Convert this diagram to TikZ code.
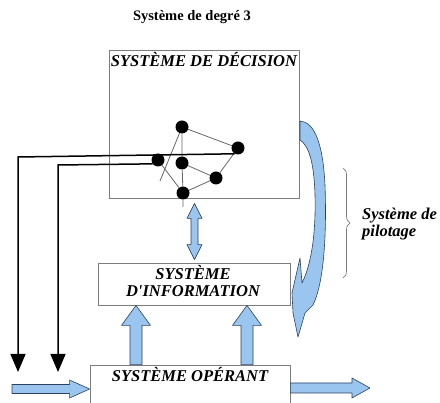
\documentclass[tikz,border=0pt]{standalone}
\usepackage{fontspec}
\setmainfont{Liberation Serif}
\usetikzlibrary{calc,arrows.meta,decorations.pathreplacing}

\definecolor{bleufl}{RGB}{153,197,238}
\definecolor{bordfl}{RGB}{45,65,95}
\definecolor{grisb}{RGB}{125,125,125}

\tikzset{
  boite/.style={draw=grisb, line width=0.8pt, inner sep=0pt},
  titre/.style={font=\fontsize{16.5}{17}\selectfont\bfseries\itshape, inner sep=0pt},
  pt/.style={circle, fill=black, inner sep=0pt, minimum size=13pt},
  lien/.style={draw=black!60, line width=0.8pt},
  fil/.style={line width=1.5pt, -{Triangle[length=18pt,width=15pt]}},
  fleche/.style={fill=bleufl, draw=bordfl, line width=0.6pt, line join=round},
}

% flèche pleine : #1 -> #2, demi-largeur du corps, demi-largeur de la tête, longueur de la tête
\newcommand{\flechebleue}[5]{%
  \coordinate (fh) at ($(#2)!#5!(#1)$);
  \path[fleche] ($(#1)!#3!90:(#2)$) -- ($(fh)!#3!90:(#2)$) -- ($(fh)!#4!90:(#2)$) -- (#2)
    -- ($(fh)!#4!-90:(#2)$) -- ($(fh)!#3!-90:(#2)$) -- ($(#1)!#3!-90:(#2)$) -- cycle;}

% flèche double
\newcommand{\doublebleue}[5]{%
  \coordinate (fa) at ($(#1)!#5!(#2)$);
  \coordinate (fb) at ($(#2)!#5!(#1)$);
  \path[fleche] (#1) -- ($(fa)!#4!90:(#2)$) -- ($(fa)!#3!90:(#2)$) -- ($(fb)!#3!90:(#2)$)
    -- ($(fb)!#4!90:(#2)$) -- (#2) -- ($(fb)!#4!-90:(#2)$) -- ($(fb)!#3!-90:(#2)$)
    -- ($(fa)!#3!-90:(#2)$) -- ($(fa)!#4!-90:(#2)$) -- cycle;}

\begin{document}
\begin{tikzpicture}[x=1pt,y=-1pt]
\clip (0,0) rectangle (440,403);

% Titre
\node[font=\fontsize{14.5}{15}\selectfont\bfseries, inner sep=0pt, anchor=base] (titre) at (192,21) {Système de degré 3};

% Boîtes
\node[boite, minimum width=190pt, minimum height=148pt] (dec) at (204,124) {};
\node[titre, anchor=base] (decT) at (204,67) {SYSTÈME DE DÉCISION};
\node[boite, minimum width=192pt, minimum height=42pt] (info) at (194,284) {};
\node[titre, align=center] (infoT) at (193,281) {SYSTÈME\\D\textquotesingle INFORMATION};
\node[boite, minimum width=200pt, minimum height=50pt] (op) at (190,390) {};
\node[titre, anchor=base] (opT) at (190,382) {SYSTÈME OPÉRANT};

% Réseau de décision
\node[pt] (a) at (182,127) {};
\node[pt] (b) at (238,148) {};
\node[pt] (c) at (158,160) {};
\node[pt] (d) at (182,163) {};
\node[pt] (e) at (216,178) {};
\node[pt] (f) at (183,193) {};
\coordinate (g) at (160,181);
\coordinate (h) at (183,207);
\draw[lien] (a) -- (b) (a) -- (d) (a) -- (g) (c) -- (f) (d) -- (e)
  (e) -- (b) (e) -- (f) (d) -- (f) (f) -- (h);

% Retours
\coordinate (r1) at (18,157);
\coordinate (r1b) at (18,372);
\coordinate (r2) at (58,165);
\coordinate (r2b) at (58,372);
\draw[fil] (b.-120) -- (r1) -- (r1b);
\draw[fil] (c.-145) -- (r2) -- (r2b);

% Flèches bleues
\coordinate (xg) at (136,0);
\coordinate (xd) at (247,0);
\coordinate (xm) at (194.5,0);
\coordinate (g1) at (xg |- op.north);
\coordinate (g2) at (xg |- info.south);
\coordinate (d1) at (xd |- op.north);
\coordinate (d2) at (xd |- info.south);
\coordinate (m1) at ($(xm |- dec.south)+(0,5)$);
\coordinate (m2) at ($(xm |- info.north)+(0,-3)$);
\coordinate (e1) at (12,389);
\coordinate (e2) at (e1 -| op.west);
\coordinate (s2) at (370,388);
\coordinate (s1) at (s2 -| op.east);
\flechebleue{g1}{g2}{6pt}{14.5pt}{20pt}
\flechebleue{d1}{d2}{6pt}{14.5pt}{20pt}
\doublebleue{m1}{m2}{3.5pt}{7.5pt}{15pt}
\flechebleue{e1}{e2}{4.5pt}{9pt}{20pt}
\flechebleue{s1}{s2}{5pt}{10pt}{18pt}

% Pilotage
\path[fleche] (300,121) .. controls (315,122) and (323,145) .. (325,185)
  .. controls (327,240) and (323,285) .. (313,305) -- (305,313) -- (298,337)
  -- (293,313) -- (292,293) -- (300,258) -- (302,283)
  .. controls (311,265) and (316,235) .. (315,195)
  .. controls (314,160) and (308,145) .. (300,140) -- cycle;
\draw[grisb, line width=0.7pt, decorate, decoration={brace, amplitude=7pt}] (343,168) -- (343,278);
\node[titre, align=left, anchor=west] (pilot) at (362,224) {Système de\\pilotage};
\end{tikzpicture}
\end{document}
